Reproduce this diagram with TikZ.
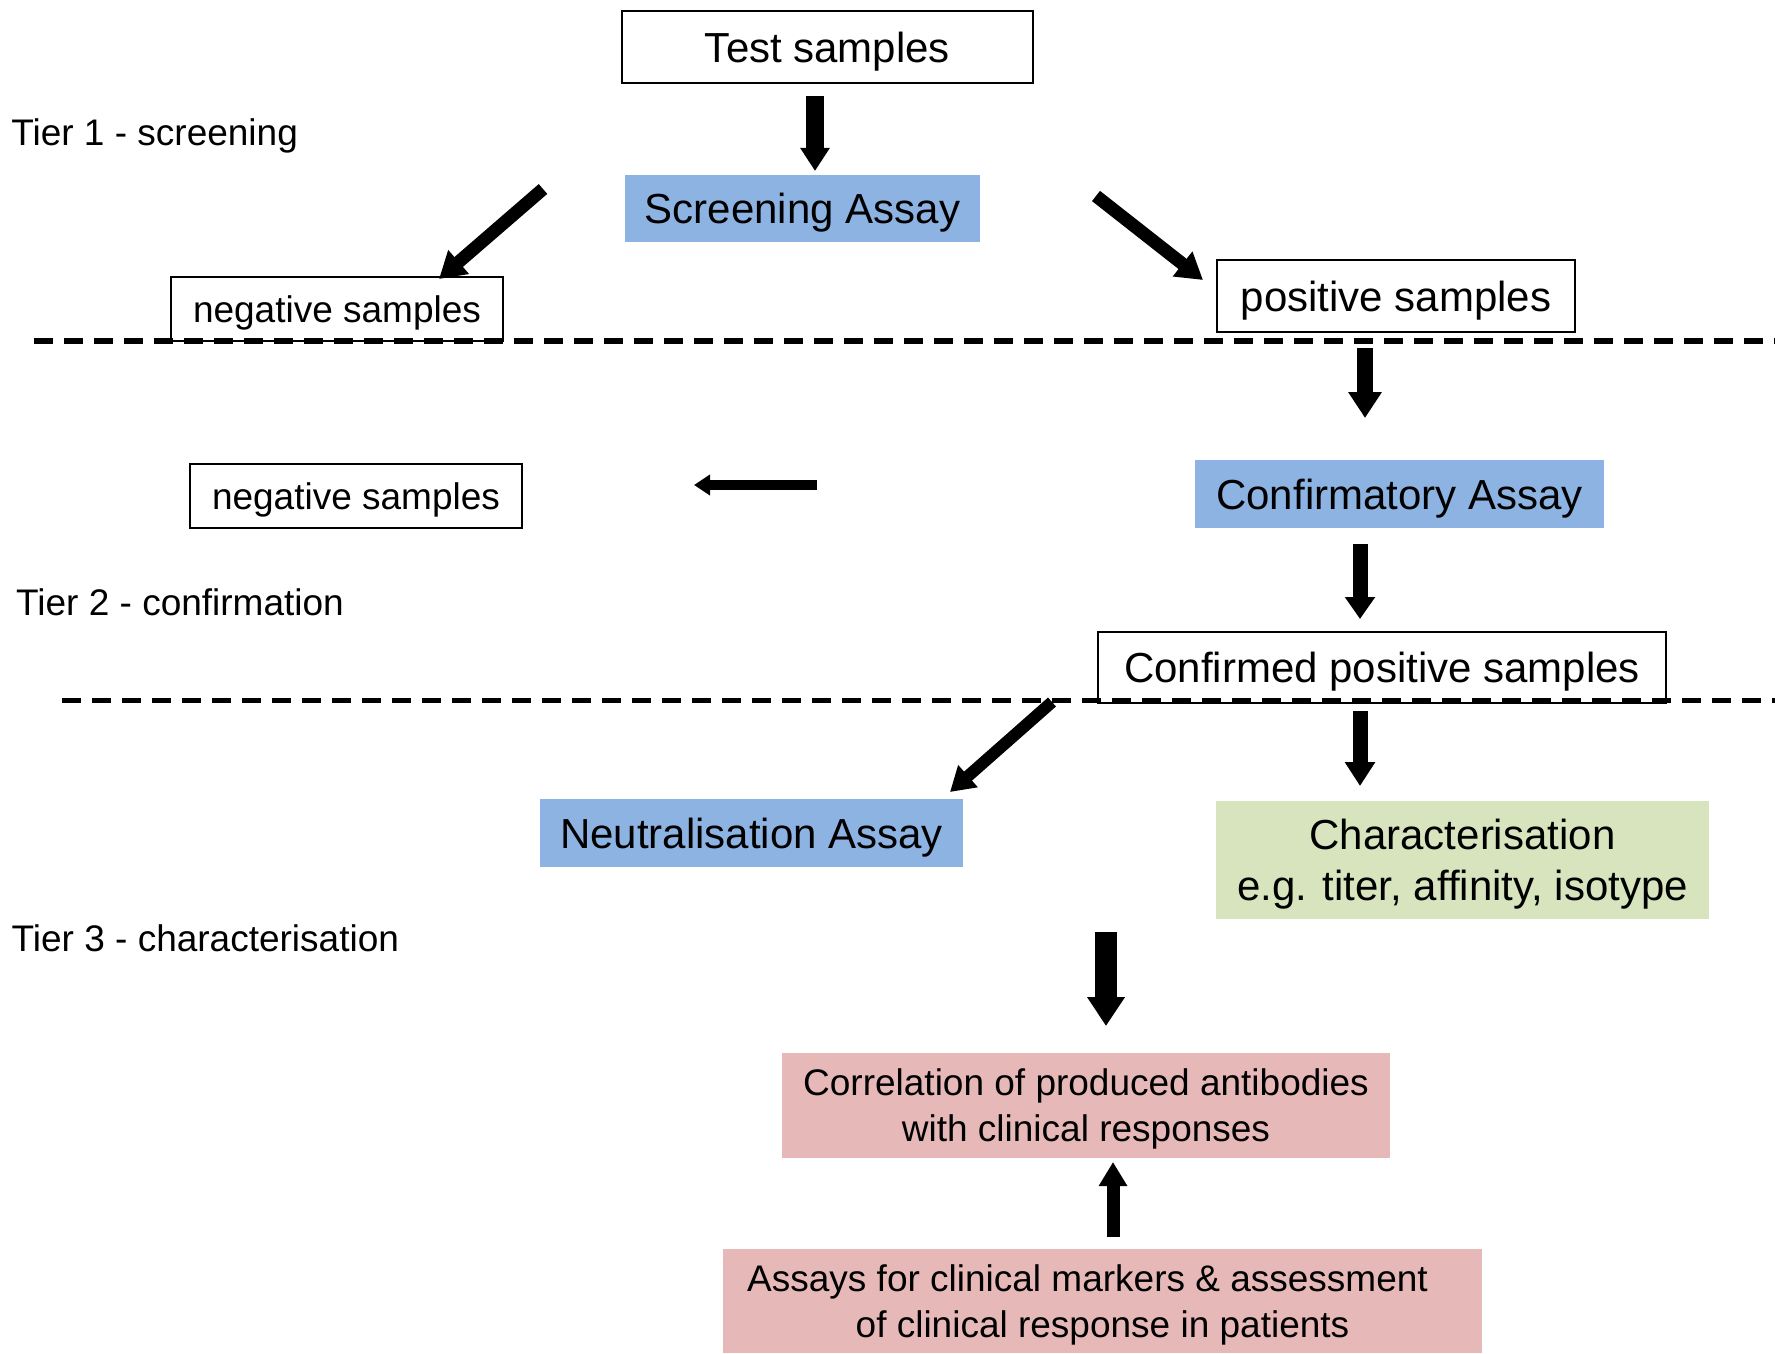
\documentclass[tikz,border=0pt]{standalone}
\usepackage{fontspec}
\setmainfont{Liberation Sans}
\usetikzlibrary{arrows.meta}
\definecolor{boxblue}{RGB}{141,179,226}
\definecolor{boxgreen}{RGB}{215,228,189}
\definecolor{boxpink}{RGB}{230,185,184}
\begin{document}
\begin{tikzpicture}[x=0.5pt,y=-0.5pt,
  outlined/.style={draw=black,line width=1.4pt,fill=white,inner sep=0pt,align=center,text depth=0pt},
  filled/.style={fill=#1,inner sep=0pt,align=center,text depth=0pt},
  bigtext/.style={font=\fontsize{21}{25.5}\selectfont},
  smalltext/.style={font=\fontsize{18.5}{23}\selectfont},
  tierlabel/.style={anchor=base west,inner sep=0pt,font=\fontsize{18.5}{23}\selectfont},
  sepline/.style={line width=2.5pt,dash pattern=on 9.5pt off 5.5pt},
  flow/.style n args={3}{line width=#1,-{Triangle[width=#2,length=#3]}}
]
\useasboundingbox (0,0) rectangle (1775,1353);

% boxes
\node[outlined,bigtext,minimum width=205.5pt,minimum height=36pt] (test) at (827.5,47) {Test samples};
\node[filled=boxblue,bigtext,minimum width=177.5pt,minimum height=33.5pt] (screen) at (802.5,208.5) {Screening Assay};
\node[outlined,smalltext,minimum width=166pt,minimum height=32pt] (neg1) at (337,309) {negative samples};
\node[outlined,bigtext,minimum width=179pt,minimum height=36pt] (pos) at (1396,296) {positive samples};
\node[outlined,smalltext,minimum width=166pt,minimum height=32pt] (neg2) at (356,496) {negative samples};
\node[filled=boxblue,bigtext,minimum width=204.5pt,minimum height=34pt] (confa) at (1399.5,494) {Confirmatory Assay};
\node[outlined,bigtext,minimum width=284pt,minimum height=35.5pt] (confpos) at (1382,667.5) {Confirmed positive samples};
\node[filled=boxblue,bigtext,minimum width=211.5pt,minimum height=34pt] (neut) at (751.5,833) {Neutralisation Assay};
\node[filled=boxgreen,bigtext,minimum width=246.5pt,minimum height=59pt] (char) at (1462.5,860) {Characterisation\\e.g. titer, affinity, isotype};
\node[filled=boxpink,smalltext,minimum width=304pt,minimum height=52.5pt] (corr) at (1086,1105.5) {Correlation of produced antibodies\\with clinical responses};
\node[filled=boxpink,smalltext,minimum width=379.5pt,minimum height=52pt] (assays) at (1102.5,1301) {Assays for clinical markers \& assessment\kern15pt\\of clinical response in patients};

% tier labels
\node[tierlabel] (tier1) at (11,145.7) {Tier 1 - screening};
\node[tierlabel] (tier2) at (15.8,615) {Tier 2 - confirmation};
\node[tierlabel] (tier3) at (11.3,951.6) {Tier 3 - characterisation};

% separator lines
\coordinate (d1a) at (34,341);  \coordinate (d1b) at (1775,341);
\coordinate (d2a) at (62,700);  \coordinate (d2b) at (1775,700);
\draw[sepline] (d1a) -- (d1b);
\draw[sepline] (d2a) -- (d2b);

% arrow end points
\coordinate (a1s) at (815,96);    \coordinate (a1e) at (815,171);
\coordinate (a2s) at (543,189);   \coordinate (a2e) at (439,279);
\coordinate (a3s) at (1096,196);  \coordinate (a3e) at (1203,280);
\coordinate (a4s) at (1365,348);  \coordinate (a4e) at (1365,418);
\coordinate (a5s) at (817,485);   \coordinate (a5e) at (694,485);
\coordinate (a6s) at (1360,544);  \coordinate (a6e) at (1360,619);
\coordinate (a7s) at (1360,711);  \coordinate (a7e) at (1360,786);
\coordinate (a8s) at (1052,702);  \coordinate (a8e) at (950,792);
\coordinate (a9s) at (1106,932);  \coordinate (a9e) at (1106,1026);
\coordinate (a10s) at (1113,1237); \coordinate (a10e) at (1113,1162);

% arrows
\draw[flow={9pt}{14pt}{11.5pt}] (a1s) -- (a1e);
\draw[flow={6.5pt}{15pt}{13pt}] (a2s) -- (a2e);
\draw[flow={6.5pt}{15pt}{13pt}] (a3s) -- (a3e);
\draw[flow={8pt}{16pt}{13pt}] (a4s) -- (a4e);
\draw[flow={5pt}{10pt}{8pt}] (a5s) -- (a5e);
\draw[flow={7.5pt}{14.5pt}{11pt}] (a6s) -- (a6e);
\draw[flow={7.5pt}{14.5pt}{12pt}] (a7s) -- (a7e);
\draw[flow={6pt}{14pt}{12pt}] (a8s) -- (a8e);
\draw[flow={11pt}{18pt}{14.5pt}] (a9s) -- (a9e);
\draw[flow={6.5pt}{13.5pt}{12pt}] (a10s) -- (a10e);
\end{tikzpicture}
\end{document}
